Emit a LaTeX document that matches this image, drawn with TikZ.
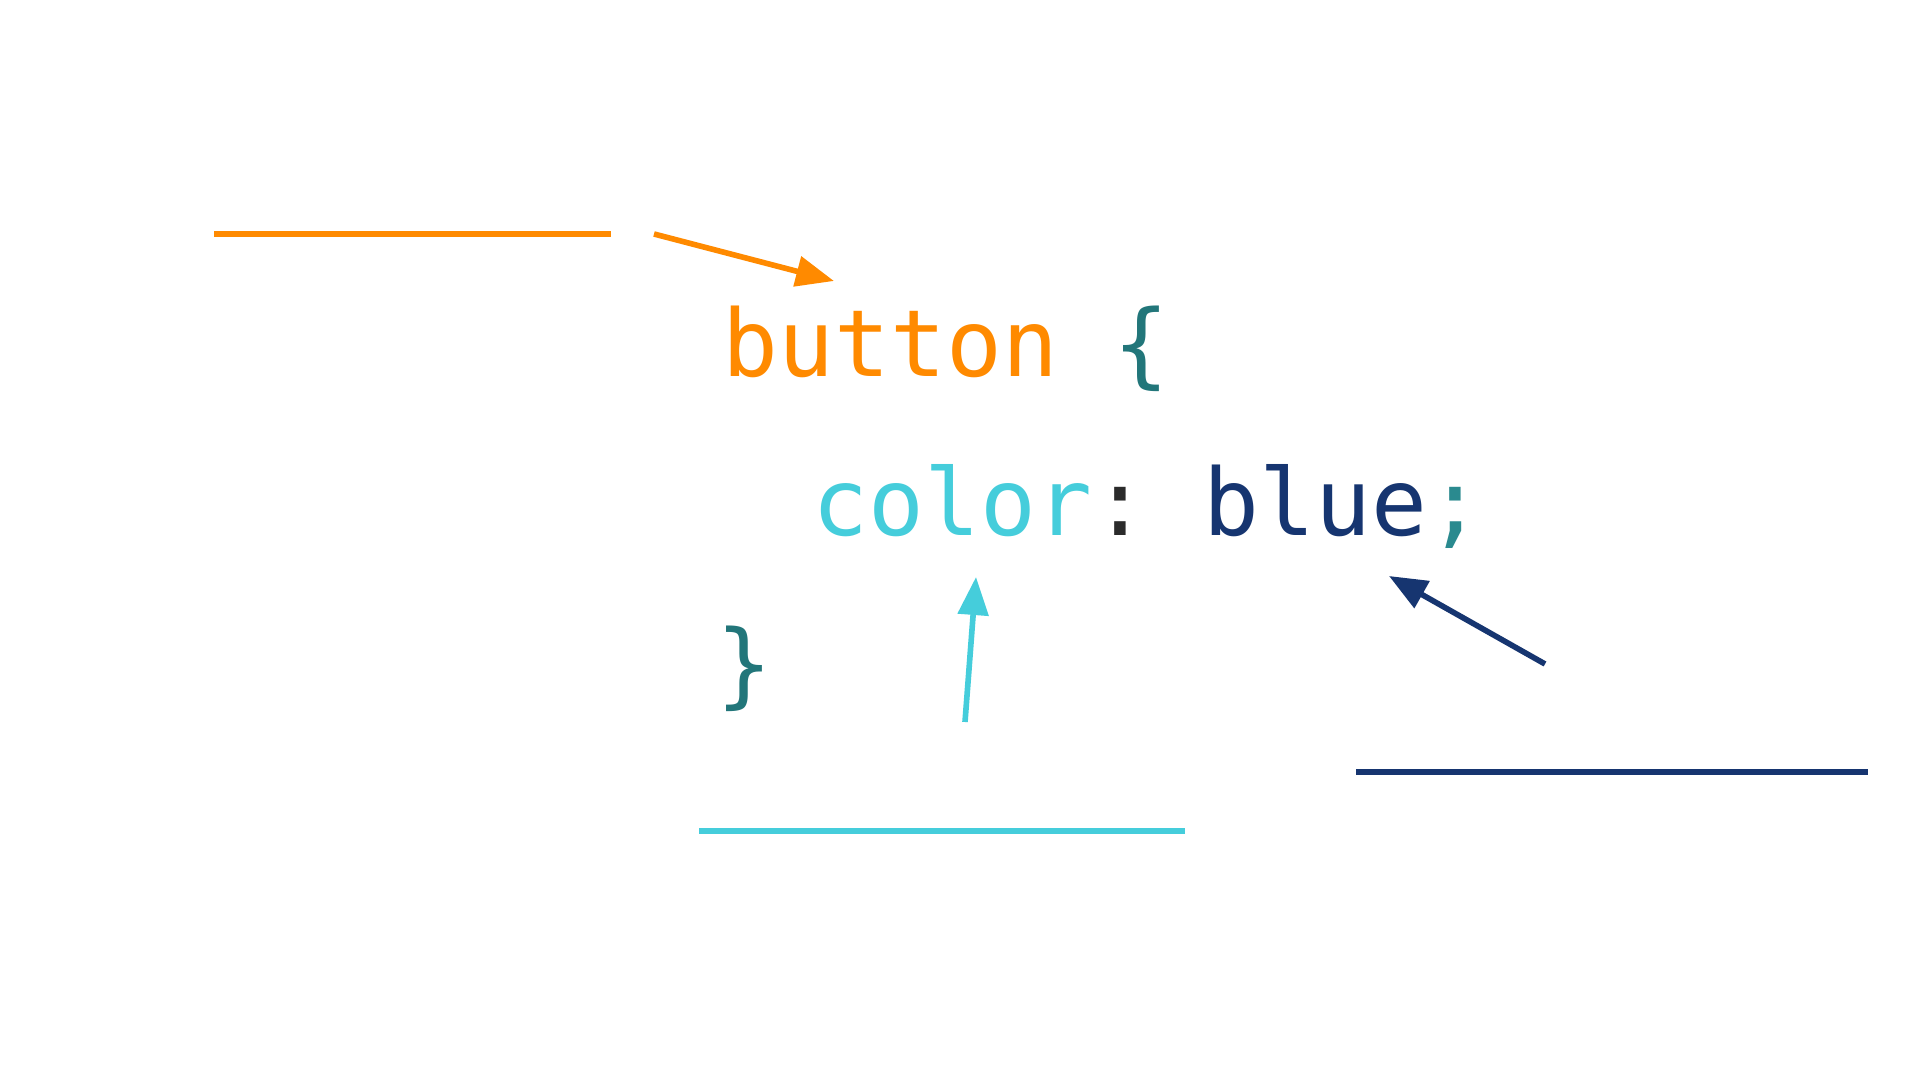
\documentclass[tikz,border=0pt]{standalone}
\usepackage{fontspec}
\setmonofont{DejaVu Sans Mono}
\usetikzlibrary{arrows.meta}
\definecolor{corange}{HTML}{FF8A00}
\definecolor{cteal}{HTML}{22767A}
\definecolor{csemi}{HTML}{2A8A8F}
\definecolor{ccyan}{HTML}{45CDDB}
\definecolor{cnavy}{HTML}{163570}
\definecolor{cdark}{HTML}{2B2B2B}
\tikzset{
  code/.style={inner sep=0pt, anchor=base west, font=\ttfamily\fontsize{26.4}{30}\selectfont},
  blank/.style={line width=1.8pt},
  pointer/.style={line width=1.6pt, -{Triangle[length=0.38cm,width=0.3cm]}},
}
\begin{document}
\begin{tikzpicture}[x=0.01cm,y=-0.01cm]
\useasboundingbox[fill=white] (0,0) rectangle (1920,1080);
% code text
\node[code] (l1) at (722,377) {\textcolor{corange}{button} \textcolor{cteal}{\{}};
\node[code] (l2) at (812,536) {\textcolor{ccyan}{color}\textcolor{cdark}{:} \textcolor{cnavy}{blue}\textcolor{csemi}{;}};
\node[code] (l3) at (716,697) {\textcolor{cteal}{\}}};
% blank label lines
\coordinate (oa) at (214,234); \coordinate (ob) at (611,234);
\coordinate (ca) at (699,831); \coordinate (cb) at (1185,831);
\coordinate (na) at (1356,772); \coordinate (nb) at (1868,772);
\draw[blank, corange] (oa) -- (ob);
\draw[blank, ccyan] (ca) -- (cb);
\draw[blank, cnavy] (na) -- (nb);
% pointers
\coordinate (os) at (654,234); \coordinate (ot) at (834,281);
\coordinate (cs) at (965,722); \coordinate (ct) at (976,577);
\coordinate (ns) at (1545,664); \coordinate (nt) at (1389,576);
\draw[pointer, corange] (os) -- (ot);
\draw[pointer, ccyan] (cs) -- (ct);
\draw[pointer, cnavy] (ns) -- (nt);
\end{tikzpicture}
\end{document}
